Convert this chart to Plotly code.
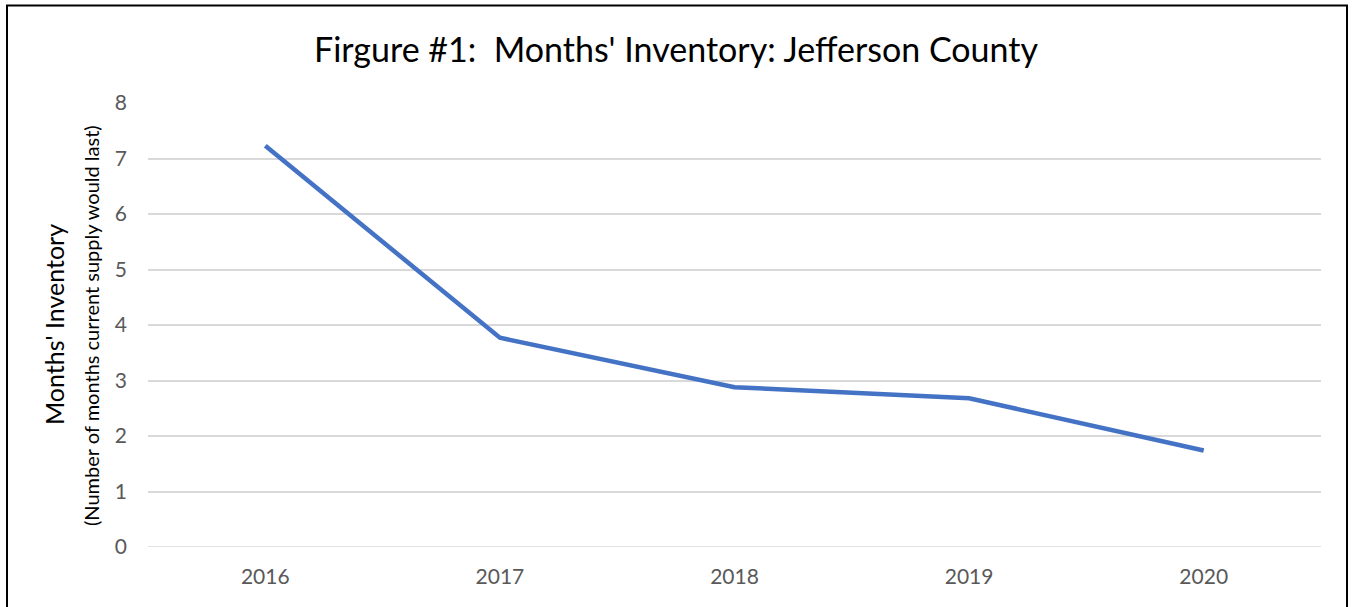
import plotly.graph_objects as go

years = ["2016", "2017", "2018", "2019", "2020"]
months_inventory = [7.23, 3.77, 2.88, 2.68, 1.74]
y_ticks = [0, 1, 2, 3, 4, 5, 6, 7, 8]

W, H = 1352, 607
L, R, T, B = 148, 31, 103, 60
pw, ph = W - L - R, H - T - B

def px_x(x):
    return (x - L) / pw

def px_y(y):
    return (H - B - y) / ph

fig = go.Figure()
fig.add_trace(go.Scatter(
    x=years, y=months_inventory, mode="lines",
    line=dict(color="#4472C4", width=4.5),
    showlegend=False, hoverinfo="x+y",
))

font_family = "Lato, 'Open Sans', sans-serif"

fig.update_layout(
    width=W, height=H,
    margin=dict(l=L, r=R, t=T, b=B),
    paper_bgcolor="white", plot_bgcolor="white",
    font=dict(family=font_family, color="#595959", size=21),
    title=dict(
        text="Firgure #1:  Months' Inventory: Jefferson County",
        x=0.5, xref="container", xanchor="center",
        y=1 - 50 / H, yref="container", yanchor="middle",
        font=dict(size=34, color="#000000", family=font_family),
    ),
    xaxis=dict(
        type="category", showgrid=False, zeroline=False, showline=False,
        ticks="", tickfont=dict(size=21, color="#595959"),
        range=[-0.5, 4.5], ticklabelstandoff=15,
    ),
    yaxis=dict(
        range=[0, 8], tickvals=y_ticks, showgrid=True,
        gridcolor="#D9D9D9", gridwidth=1.5, zeroline=False,
        showline=False, ticks="", ticklabelstandoff=20,
        tickfont=dict(size=21, color="#595959"),
    ),
    shapes=[
        dict(type="rect", xref="paper", yref="paper",
             x0=px_x(7), x1=px_x(1347), y0=px_y(5.5), y1=px_y(620),
             line=dict(color="black", width=2), fillcolor="rgba(0,0,0,0)",
             layer="below"),
        dict(type="line", xref="paper", yref="y", x0=0, x1=1, y0=0, y1=0,
             line=dict(color="#D9D9D9", width=1.5), layer="below"),
    ],
    annotations=[
        dict(text="Months' Inventory", xref="paper", yref="paper",
             x=px_x(54), y=px_y(325), textangle=-90, showarrow=False,
             xanchor="center", yanchor="middle",
             font=dict(size=25, color="#000000", family=font_family)),
        dict(text="(Number of months current supply would last)",
             xref="paper", yref="paper",
             x=px_x(91), y=px_y(326), textangle=-90, showarrow=False,
             xanchor="center", yanchor="middle",
             font=dict(size=20, color="#000000", family=font_family)),
    ],
)

fig.write_html(
    "out.html",
    config={"displayModeBar": False},
    post_script="document.body.style.margin='0px';document.body.style.overflow='hidden';",
)
